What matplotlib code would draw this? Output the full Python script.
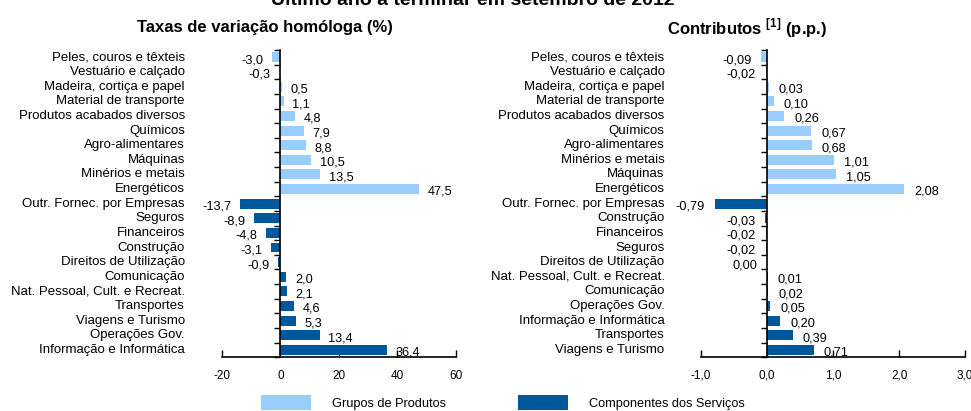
import matplotlib
matplotlib.use("Agg")
import matplotlib.pyplot as plt
import matplotlib.transforms as mtransforms
from matplotlib.patches import Patch

plt.rcParams['font.family'] = ['Liberation Sans', 'DejaVu Sans']

light = '#99CCFF'
dark = '#00589C'

# taxas de variação homóloga (%)
left_goods = ['Peles, couros e têxteis', 'Vestuário e calçado', 'Madeira, cortiça e papel',
              'Material de transporte', 'Produtos acabados diversos', 'Químicos',
              'Agro-alimentares', 'Máquinas', 'Minérios e metais', 'Energéticos']
left_goods_val = [-3.0, -0.3, 0.5, 1.1, 4.8, 7.9, 8.8, 10.5, 13.5, 47.5]
left_serv = ['Outr. Fornec. por Empresas', 'Seguros', 'Financeiros', 'Construção',
             'Direitos de Utilização', 'Comunicação', 'Nat. Pessoal, Cult. e Recreat.',
             'Transportes', 'Viagens e Turismo', 'Operações Gov.', 'Informação e Informática']
left_serv_val = [-13.7, -8.9, -4.8, -3.1, -0.9, 2.0, 2.1, 4.6, 5.3, 13.4, 36.4]

# contributos (p.p.)
right_goods = ['Peles, couros e têxteis', 'Vestuário e calçado', 'Madeira, cortiça e papel',
               'Material de transporte', 'Produtos acabados diversos', 'Químicos',
               'Agro-alimentares', 'Minérios e metais', 'Máquinas', 'Energéticos']
right_goods_val = [-0.09, -0.02, 0.03, 0.10, 0.26, 0.67, 0.68, 1.01, 1.05, 2.08]
right_serv = ['Outr. Fornec. por Empresas', 'Construção', 'Financeiros', 'Seguros',
              'Direitos de Utilização', 'Nat. Pessoal, Cult. e Recreat.', 'Comunicação',
              'Operações Gov.', 'Informação e Informática', 'Transportes', 'Viagens e Turismo']
right_serv_val = [-0.79, -0.03, -0.02, -0.02, 0.00, 0.01, 0.02, 0.05, 0.20, 0.39, 0.71]

left_ticks = [-20, 0, 20, 40, 60]
right_ticks = [-1.0, 0.0, 1.0, 2.0, 3.0]

FS = 9.2
CAT_FS = 9.5


def comma(v, nd):
    return ('%.*f' % (nd, v)).replace('.', ',')


fig = plt.figure(figsize=(9.71, 4.11), dpi=100)
ax1 = fig.add_axes([0.2286, 0.131, 0.241, 0.747])
ax2 = fig.add_axes([0.722, 0.131, 0.272, 0.747])


def panel(ax, goods, gvals, serv, svals, ticks, tick_lab, xlim, nd, off, lab_x):
    names = goods + serv
    vals = gvals + svals
    cols = [light] * len(goods) + [dark] * len(serv)
    y = list(range(len(names)))
    ax.barh(y, vals, height=0.68, color=cols, zorder=2)
    ax.set_ylim(len(names) - 0.5, -0.5)
    ax.set_xlim(*xlim)

    for sp in ['top', 'right']:
        ax.spines[sp].set_visible(False)
    ax.spines['left'].set_position(('data', 0))
    ax.spines['left'].set_linewidth(1.2)
    ax.spines['bottom'].set_linewidth(1.2)

    # ticks on the zero line sit between the categories
    ax.set_yticks([i - 0.5 for i in range(len(names) + 1)])
    ax.set_yticklabels([])
    ax.tick_params(axis='y', direction='out', length=4, width=1)
    ax.set_xticks(ticks)
    ax.set_xticklabels(tick_lab, fontsize=8.5)
    ax.tick_params(axis='x', direction='in', length=5, width=1, pad=9)

    trans = mtransforms.blended_transform_factory(ax.transAxes, ax.transData)
    for i, n in enumerate(names):
        ax.text(lab_x, i, n, transform=trans, ha='right', va='center', fontsize=CAT_FS)

    for i, v in enumerate(vals):
        if v <= 0:
            ax.text(v - off, i + 0.2, comma(v, nd), ha='right', va='center', fontsize=FS)
        else:
            ax.text(v + off, i + 0.2, comma(v, nd), ha='left', va='center', fontsize=FS)


panel(ax1, left_goods, left_goods_val, left_serv, left_serv_val, left_ticks,
      ['%d' % t for t in left_ticks], (-20, 60), 1, 3.0, -0.158)
panel(ax2, right_goods, right_goods_val, right_serv, right_serv_val, right_ticks,
      [comma(t, 1) for t in right_ticks], (-1.0, 3.0), 2, 0.15, -0.138)

fig.text(0.273, 0.932, 'Taxas de variação homóloga (%)', ha='center', va='center',
         fontsize=12, fontweight='bold')
fig.text(0.769, 0.932, r'Contributos $^{\mathregular{[1]}}$ (p.p.)', ha='center', va='center',
         fontsize=12, fontweight='bold')
fig.text(0.487, 1 - 5 / 411, 'Último ano a terminar em setembro de 2012', ha='center',
         va='baseline', fontsize=14, fontweight='bold')

handles = [Patch(facecolor=light, edgecolor='none', label='Grupos de Produtos'),
           Patch(facecolor=dark, edgecolor='none', label='Componentes dos Serviços')]
fig.legend(handles=handles, loc='center', bbox_to_anchor=(0.518, 0.02), ncol=2,
           frameon=False, fontsize=FS, handlelength=3.9, handleheight=1.4,
           handletextpad=1.7, columnspacing=5.6)

fig.savefig('out.png', dpi=100)
